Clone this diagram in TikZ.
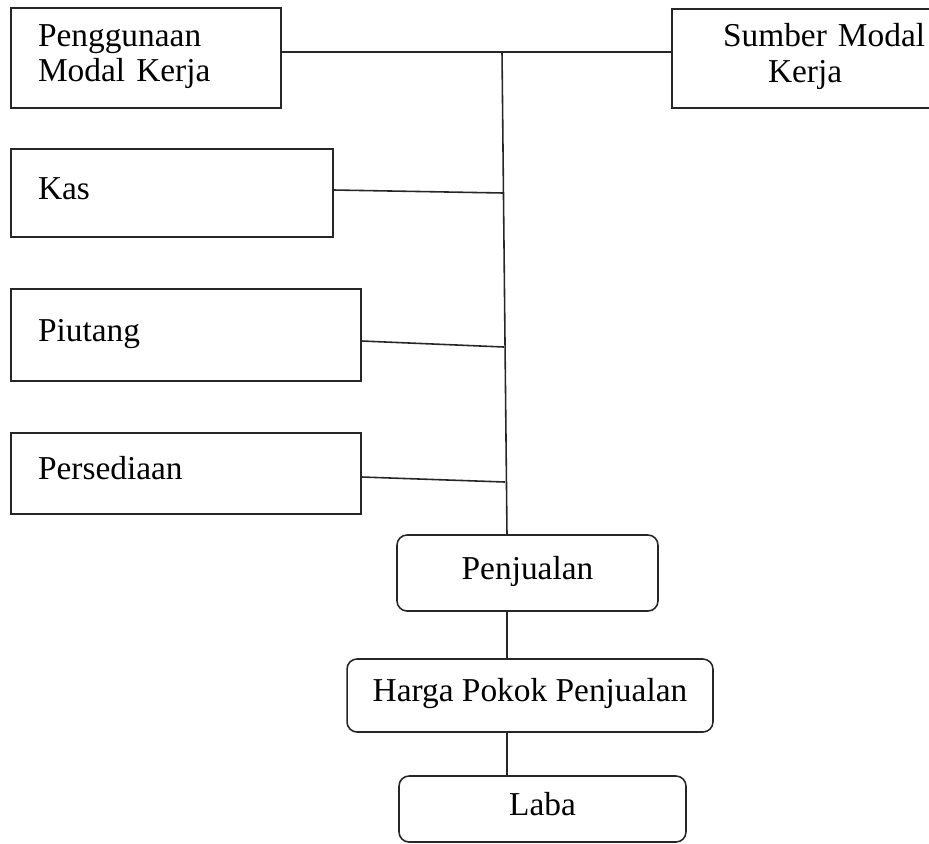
\documentclass[tikz,border=0pt]{standalone}
\usepackage{fontspec}
\setmainfont{Liberation Serif}
\usepackage{tikz}
\usetikzlibrary{positioning,calc}
\definecolor{garis}{HTML}{262626}

\begin{document}
\begin{tikzpicture}[x=0.02cm, y=-0.02cm,
  kotak/.style={draw=garis, line width=0.9pt, align=left, inner xsep=0.54cm,
                text height=0.44cm, text depth=0.2cm,
                font=\fontsize{19}{20.4}\selectfont},
  bulat/.style={draw=garis, line width=0.9pt, rounded corners=0.2cm, align=center,
                text height=0.44cm, text depth=0.2cm,
                font=\fontsize{19}{20.4}\selectfont},
  hubung/.style={draw=garis, line width=0.9pt}
]
\useasboundingbox (0,0) rectangle (929,843);
\node[kotak, text width=4.32cm, minimum height=2.0cm, text depth=0.92cm] (pg) at (146,58) {Penggunaan\\Modal Kerja};
\node[kotak, text width=4.68cm, minimum height=1.98cm, text depth=0.92cm] (sm) at (816,58.5) {\hspace*{0.48cm}Sumber Modal\\\hspace*{1.38cm}Kerja};
\node[kotak, text width=5.36cm, minimum height=1.76cm] (ks) at (172,193) {Kas};
\node[kotak, text width=5.92cm, minimum height=1.84cm] (pu) at (186,335) {Piutang};
\node[kotak, text width=5.92cm, minimum height=1.62cm] (ps) at (186,473.5) {Persediaan};
\node[bulat, minimum width=5.22cm, minimum height=1.52cm] (pj) at (527.5,573) {Penjualan};
\node[bulat, minimum width=7.32cm, minimum height=1.46cm] (hp) at (530,695.5) {Harga Pokok Penjualan};
\node[bulat, minimum width=5.74cm, minimum height=1.32cm] (lb) at (542.5,809) {Laba};
\coordinate (atas) at (502,52);
\coordinate (bawah) at (507,535);
\coordinate (c1) at (503.5,193);
\coordinate (c2) at (504,347);
\coordinate (c3) at (505,482);
\draw[hubung] (pg.east |- atas) -- (sm.west |- atas);
\draw[hubung] (atas) -- (bawah);
\draw[hubung] ([yshift=0.06cm]ks.east) -- (c1);
\draw[hubung] ([yshift=-0.12cm]pu.east) -- (c2);
\draw[hubung] ([yshift=-0.07cm]ps.east) -- (c3);
\draw[hubung] (bawah |- pj.south) -- (bawah |- hp.north);
\draw[hubung] (bawah |- hp.south) -- (bawah |- lb.north);
\end{tikzpicture}
\end{document}
